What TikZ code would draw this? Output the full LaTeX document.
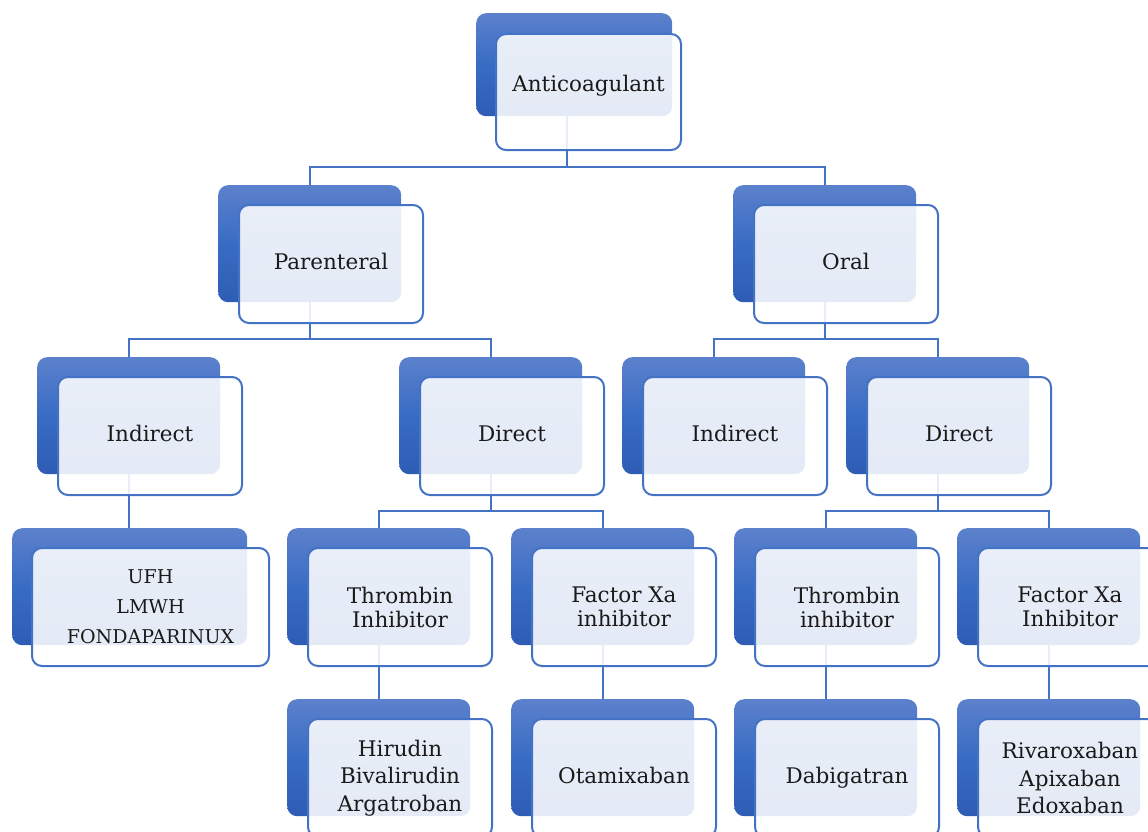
\documentclass[tikz,border=0pt]{standalone}
\usepackage{fontspec}
\setmainfont{DejaVu Serif}
\usetikzlibrary{positioning, calc}
\definecolor{boxline}{RGB}{68,114,196}
\definecolor{tabtop}{RGB}{92,129,204}
\definecolor{tabmid}{RGB}{56,108,196}
\definecolor{tabbot}{RGB}{46,92,180}
\definecolor{inktext}{RGB}{26,26,26}

\begin{document}
\begin{tikzpicture}[x=1pt, y=-1pt]
      \useasboundingbox (0,0) rectangle (1148,832);

      % Define the style for the back tabs
      \tikzstyle{tab}=[rectangle, rounded corners=10pt, anchor=north west, inner sep=0pt,
        minimum width=183pt, minimum height=117pt,
        top color=tabtop, bottom color=tabbot, middle color=tabmid]

      % Tabs
      \node[tab, minimum width=196pt, minimum height=103pt] (root-b) at (476,13) {};
      \node[tab] (par-b) at (218,185) {};
      \node[tab] (oral-b) at (733,185) {};
      \node[tab] (pind-b) at (37,357) {};
      \node[tab] (pdir-b) at (399,357) {};
      \node[tab] (oind-b) at (622,357) {};
      \node[tab] (odir-b) at (846,357) {};
      \node[tab, minimum width=235pt] (ufh-b) at (12,528) {};
      \node[tab] (pthr-b) at (287,528) {};
      \node[tab] (pxa-b) at (511,528) {};
      \node[tab] (othr-b) at (734,528) {};
      \node[tab] (oxa-b) at (957,528) {};
      \node[tab] (hir-b) at (287,699) {};
      \node[tab] (ota-b) at (511,699) {};
      \node[tab] (dab-b) at (734,699) {};
      \node[tab] (riv-b) at (957,699) {};

      % Define the style for the links
      \tikzstyle{link}=[draw=boxline, line width=2.2pt]

      % Links
      \draw[link] ([xshift=-7pt]root-b.south) |- ($(par-b.north)+(0,-18)$) -- (par-b.north);
      \draw[link] ([xshift=-7pt]root-b.south) |- ($(oral-b.north)+(0,-18)$) -- (oral-b.north);
      \draw[link] (par-b.south) |- ($(pind-b.north)+(0,-18)$) -- (pind-b.north);
      \draw[link] (par-b.south) |- ($(pdir-b.north)+(0,-18)$) -- (pdir-b.north);
      \draw[link] (oral-b.south) |- ($(oind-b.north)+(0,-18)$) -- (oind-b.north);
      \draw[link] (oral-b.south) |- ($(odir-b.north)+(0,-18)$) -- (odir-b.north);
      \draw[link] (pind-b.south) -- (pind-b.south |- ufh-b.north);
      \draw[link] (pdir-b.south) |- ($(pthr-b.north)+(0,-17)$) -- (pthr-b.north);
      \draw[link] (pdir-b.south) |- ($(pxa-b.north)+(0,-17)$) -- (pxa-b.north);
      \draw[link] (odir-b.south) |- ($(othr-b.north)+(0,-17)$) -- (othr-b.north);
      \draw[link] (odir-b.south) |- ($(oxa-b.north)+(0,-17)$) -- (oxa-b.north);
      \draw[link] (pthr-b.south) -- (hir-b.north);
      \draw[link] (pxa-b.south) -- (ota-b.north);
      \draw[link] (othr-b.south) -- (dab-b.north);
      \draw[link] (oxa-b.south) -- (riv-b.north);

      % Define the style for the front cards
      \tikzstyle{card}=[rectangle, rounded corners=10pt, draw=boxline, line width=2pt,
        fill=white, fill opacity=0.88, text opacity=1, text=inktext, align=center,
        minimum width=184pt, minimum height=118pt, inner sep=2pt,
        font=\fontsize{21.5}{24}\selectfont]
      \tikzstyle{single}=[text height=16pt, text depth=5pt]
      \tikzstyle{three}=[font=\fontsize{21.5}{27.5}\selectfont]

      % Cards
      \node[card, text height=16pt, text depth=17pt, minimum width=185pt, minimum height=116pt, below right=20pt and 19pt of root-b.north west] (root) {Anticoagulant};
      \node[card, single, below right=19pt and 20pt of par-b.north west] (par) {Parenteral};
      \node[card, single, below right=19pt and 20pt of oral-b.north west] (oral) {Oral};
      \node[card, single, below right=19pt and 20pt of pind-b.north west] (pind) {Indirect};
      \node[card, single, below right=19pt and 20pt of pdir-b.north west] (pdir) {Direct};
      \node[card, single, below right=19pt and 20pt of oind-b.north west] (oind) {Indirect};
      \node[card, single, below right=19pt and 20pt of odir-b.north west] (odir) {Direct};
      \node[card, minimum width=237pt, font=\fontsize{19}{30}\selectfont, below right=19pt and 19pt of ufh-b.north west] (ufh) {UFH\\LMWH\\FONDAPARINUX};
      \node[card, below right=19pt and 20pt of pthr-b.north west] (pthr) {Thrombin\\Inhibitor};
      \node[card, below right=19pt and 20pt of pxa-b.north west] (pxa) {Factor Xa\\inhibitor};
      \node[card, below right=19pt and 20pt of othr-b.north west] (othr) {Thrombin\\inhibitor};
      \node[card, below right=19pt and 20pt of oxa-b.north west] (oxa) {Factor Xa\\Inhibitor};
      \node[card, three, below right=19pt and 20pt of hir-b.north west] (hir) {Hirudin\\Bivalirudin\\Argatroban};
      \node[card, single, below right=19pt and 20pt of ota-b.north west] (ota) {Otamixaban};
      \node[card, single, below right=19pt and 20pt of dab-b.north west] (dab) {Dabigatran};
      \node[card, three, below right=19pt and 20pt of riv-b.north west] (riv) {Rivaroxaban\\Apixaban\\Edoxaban};

\end{tikzpicture}
\end{document}
